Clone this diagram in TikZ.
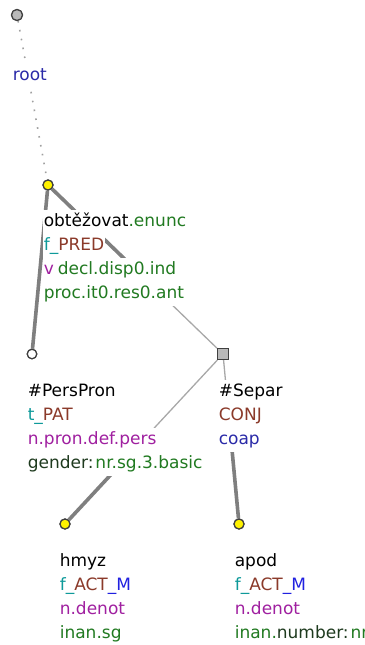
\documentclass[tikz,border=0pt]{standalone}
\usepackage{fontspec}
\setmainfont{DejaVu Sans}
\usetikzlibrary{calc}
\definecolor{tgreen}{HTML}{217A21}
\definecolor{tdark}{HTML}{1E3A1E}
\definecolor{tteal}{HTML}{0E9A9A}
\definecolor{tbrown}{HTML}{8B3A2A}
\definecolor{tblue}{HTML}{2020E0}
\definecolor{tnavy}{HTML}{2A2AA8}
\definecolor{tpurple}{HTML}{A020A0}
\definecolor{ndark}{HTML}{404040}
\definecolor{edgethick}{HTML}{7F7F7F}
\definecolor{edgethin}{HTML}{A8A8A8}
\begin{document}
\begin{tikzpicture}[x=1pt,y=-1pt,
  font=\fontsize{17}{20}\selectfont,
  lbl/.style={anchor=base west, inner xsep=0.6pt, inner ysep=0pt,
    text height=16.5pt, text depth=7.5pt, fill=white},
  nodebase/.style={draw=ndark, line width=1.2pt, inner sep=0pt},
  yel/.style={nodebase, circle, fill=yellow, minimum size=10pt},
  rootn/.style={nodebase, circle, fill=gray!55, minimum size=11pt},
  whiten/.style={nodebase, circle, fill=white, minimum size=9.5pt},
  sq/.style={nodebase, rectangle, fill=gray!55, minimum size=11pt},
  thick edge/.style={draw=edgethick, line width=3.6pt},
  thin edge/.style={draw=edgethin, line width=1.3pt},
  dot edge/.style={draw=gray!75, line width=1.6pt, dash pattern=on 1.6pt off 7.4pt}
]
\useasboundingbox (0,0) rectangle (364,645);

% nodes
\node[rootn] (root) at (17,15) {};
\node[yel] (obt) at (48,185) {};
\node[whiten] (pers) at (32,354) {};
\node[sq] (sep) at (223,354) {};
\node[yel] (hmyz) at (65,524) {};
\node[yel] (apod) at (239,524) {};

% midpoints
\coordinate (m1) at ($(obt.center)!0.5!(sep.center)$);
\coordinate (m2) at ($(sep.center)!0.5!(hmyz.center)$);
\coordinate (m3) at ($(sep.center)!0.5!(apod.center)$);

% edges
\draw[dot edge] (root) -- (obt);
\draw[thick edge] (obt) -- (pers);
\draw[thick edge] (obt) -- (m1);
\draw[thin edge] (m1) -- (sep);
\draw[thin edge] (sep) -- (m2);
\draw[thick edge] (m2) -- (hmyz);
\draw[thin edge] (sep) -- (m3);
\draw[thick edge] (m3) -- (apod);

% redraw nodes on top of edges
\node[rootn] at (root) {};
\node[yel] at (obt) {};
\node[whiten] at (pers) {};
\node[sq] at (sep) {};
\node[yel] at (hmyz) {};
\node[yel] at (apod) {};

% labels
\node[lbl] (rootl) at (12,80) {\textcolor{tnavy}{root}};

\node[lbl] (obt1) at (43,226) {obtěžovat\textcolor{tgreen}{.enunc}};
\node[lbl] (obt2) at (43,250) {\textcolor{tteal}{f\_}\textcolor{tbrown}{PRED}};
\node[lbl] (obt3) at (43,274) {\textcolor{tpurple}{v}\hspace{4pt}\textcolor{tgreen}{decl.disp0.ind}};
\node[lbl] (obt4) at (43,298) {\textcolor{tgreen}{proc.it0.res0.ant}};

\node[lbl] (pers1) at (27,396) {\#PersPron};
\node[lbl] (pers2) at (27,420) {\textcolor{tteal}{t\_}\textcolor{tbrown}{PAT}};
\node[lbl] (pers3) at (27,444) {\textcolor{tpurple}{n.pron.def.pers}};
\node[lbl] (pers4) at (27,468) {\textcolor{tdark}{gender:}\hspace{2pt}\textcolor{tgreen}{nr.sg.3.basic}};

\node[lbl] (sep1) at (218,396) {\#Separ};
\node[lbl] (sep2) at (218,420) {\textcolor{tbrown}{CONJ}};
\node[lbl] (sep3) at (218,444) {\textcolor{tnavy}{coap}};

\node[lbl] (hm1) at (59,566) {hmyz};
\node[lbl] (hm2) at (59,590) {\textcolor{tteal}{f\_}\textcolor{tbrown}{ACT}\textcolor{tblue}{\_M}};
\node[lbl] (hm3) at (59,614) {\textcolor{tpurple}{n.denot}};
\node[lbl] (hm4) at (59,638) {\textcolor{tgreen}{inan.sg}};

\node[lbl] (ap1) at (234,566) {apod};
\node[lbl] (ap2) at (234,590) {\textcolor{tteal}{f\_}\textcolor{tbrown}{ACT}\textcolor{tblue}{\_M}};
\node[lbl] (ap3) at (234,614) {\textcolor{tpurple}{n.denot}};
\node[lbl] (ap4) at (234,638) {\textcolor{tgreen}{inan.}\textcolor{tdark}{number:}\hspace{2pt}\textcolor{tgreen}{nr}};
\end{tikzpicture}
\end{document}
